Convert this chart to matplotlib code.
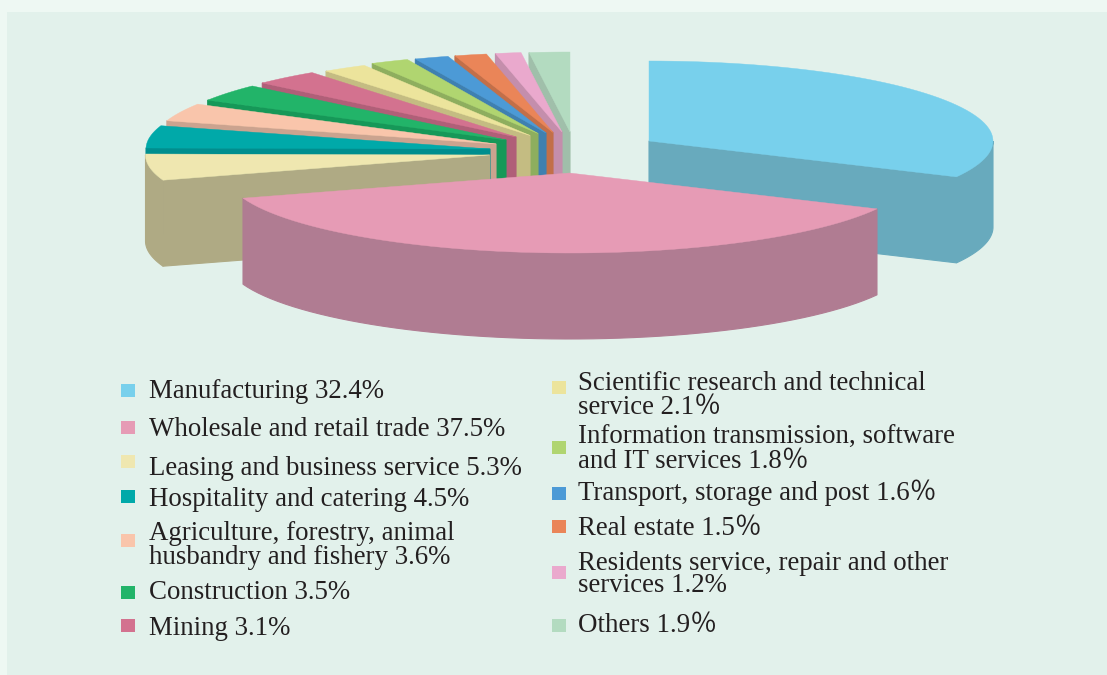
import matplotlib

matplotlib.use("Agg")
import matplotlib.pyplot as plt
import numpy as np
from matplotlib.patches import Polygon, Rectangle

# data, clockwise from 12 o'clock
categories = [
    "Manufacturing",
    "Wholesale and retail trade",
    "Leasing and business service",
    "Hospitality and catering",
    "Agriculture, forestry, animal husbandry and fishery",
    "Construction",
    "Mining",
    "Scientific research and technical service",
    "Information transmission, software and IT services",
    "Transport, storage and post",
    "Real estate",
    "Residents service, repair and other services",
    "Others",
]
shares = [32.4, 37.5, 5.3, 4.5, 3.6, 3.5, 3.1, 2.1, 1.8, 1.6, 1.5, 1.2, 1.9]
top_colors = [
    "#78D0EC", "#E69BB5", "#EFE7B0", "#00A9A9", "#F9C5AB", "#22B469", "#D3728F",
    "#ECE49C", "#B0D570", "#4C9AD6", "#EA8558", "#EAA9CD", "#B3DBC0",
]
side_colors = [
    "#68AABD", "#B07C92", "#AFAA84", "#008E8E", "#CBA38F", "#169858", "#B05F78",
    "#C4BC82", "#8EAE5E", "#3F80B0", "#C26F49", "#C48EAC", "#A0BFAA",
]
left_labels = [
    "Manufacturing 32.4%",
    "Wholesale and retail trade 37.5%",
    "Leasing and business service 5.3%",
    "Hospitality and catering 4.5%",
    "Agriculture, forestry, animal\nhusbandry and fishery 3.6%",
    "Construction 3.5%",
    "Mining 3.1%",
]
right_labels = [
    "Scientific research and technical\nservice 2.1％",
    "Information transmission, software\nand IT services 1.8％",
    "Transport, storage and post 1.6％",
    "Real estate 1.5％",
    "Residents service, repair and other\nservices 1.2%",
    "Others 1.9％",
]

# layout in image pixels
RX, RY, DEPTH = 344, 80, 86
centers = [
    (649, 141), (569.5, 173), (489.5, 155), (490, 149), (496, 144), (506, 140), (516, 137),
    (530, 135.5), (538, 133.5), (546, 133), (553, 132.5), (562, 132), (570, 132),
]
left_marker_y = [390, 427, 461, 496, 540, 592, 625]
right_marker_y = [387, 447, 493, 526, 572, 625]
left_baselines = [398, 436, 475, 506, 564, 599, 635]
right_baselines = [414, 468, 500, 535, 592, 632]
left_spacing = [1, 1, 1, 1, 0.96, 1, 1]
right_spacing = [0.96, 0.96, 1, 1, 0.86, 1]


def rim(center, a0, a1, n=60):
    t = np.radians(np.linspace(a0, a1, n))
    return np.column_stack([center[0] + RX * np.sin(t), center[1] - RY * np.cos(t)])


def draw_slice(ax, center, a0, a1, top, side):
    drop = np.array([0, DEPTH])
    c = np.array(center)
    # cut faces turned towards the viewer
    if 180 < a0 < 360:
        p = rim(center, a0, a0, 1)[0]
        ax.add_patch(Polygon([c, p, p + drop, c + drop], fc=side, ec=side, lw=0.8))
    if 0 < a1 < 180:
        p = rim(center, a1, a1, 1)[0]
        ax.add_patch(Polygon([c, p, p + drop, c + drop], fc=side, ec=side, lw=0.8))
    # outer wall, only the front half shows
    lo, hi = max(a0, 90), min(a1, 270)
    if lo < hi:
        arc = rim(center, lo, hi)
        ax.add_patch(Polygon(np.vstack([arc, arc[::-1] + drop]), fc=side, ec=side, lw=0.8))
    ax.add_patch(Polygon(np.vstack([c, rim(center, a0, a1)]), fc=top, ec=top, lw=0.3))


def draw_legend(ax, x_box, x_text, marker_y, baselines, labels, spacing, colors):
    for my, base, label, sp, color in zip(marker_y, baselines, labels, spacing, colors):
        ax.add_patch(Rectangle((x_box, my - 6.5), 14, 13, fc=color, ec="none"))
        ax.text(
            x_text, base, label, fontsize=19.4, color="#231F20", va="baseline", ha="left",
            family=["Liberation Serif", "Noto Sans CJK SC"], linespacing=sp,
        )


fig = plt.figure(figsize=(11.07, 6.75), dpi=100)
fig.patch.set_facecolor("#EEF8F3")
ax = fig.add_axes([0, 0, 1, 1])
ax.set_xlim(0, 1107)
ax.set_ylim(675, 0)
ax.axis("off")

ax.add_patch(Rectangle((7, 12), 1100, 663, fc="#E2F1EB", ec="none"))

edges = np.cumsum([0] + shares) / np.sum(shares) * 360
order = list(range(len(shares) - 1, 1, -1)) + [0, 1]
for i in order:
    draw_slice(ax, centers[i], edges[i], edges[i + 1], top_colors[i], side_colors[i])

draw_legend(ax, 121, 149, left_marker_y, left_baselines, left_labels, left_spacing, top_colors[:7])
draw_legend(ax, 552, 578, right_marker_y, right_baselines, right_labels, right_spacing, top_colors[7:])

fig.savefig("out.png", dpi=100, facecolor=fig.get_facecolor())
plt.close(fig)
